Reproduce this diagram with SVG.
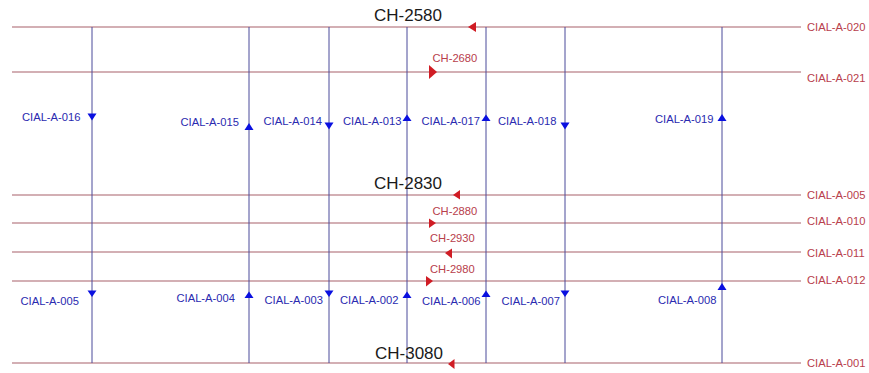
<svg xmlns="http://www.w3.org/2000/svg" width="869" height="373" viewBox="0 0 869 373">
<style>
.h{stroke:#a8606a;stroke-width:1.2;fill:none}
.v{stroke:#4a4a9a;stroke-width:1;fill:none}
.bl{font-family:"Liberation Sans",Arial,sans-serif;font-size:11.2px;fill:#2a2ab0}
.rl{font-family:"Liberation Sans",Arial,sans-serif;font-size:11.2px;fill:#b8404c}
.ch{font-family:"Liberation Sans",Arial,sans-serif;font-size:17px;fill:#1a1a1a}
.bt{fill:#0a10e0}
.rt{fill:#d01c24}
</style>
<rect width="869" height="373" fill="#ffffff"/>
<g id="connectors">
<line class="h" x1="12" y1="27" x2="801" y2="27"/>
<line class="h" x1="12" y1="72" x2="801" y2="72"/>
<line class="h" x1="12" y1="195" x2="801" y2="195"/>
<line class="h" x1="12" y1="223" x2="801" y2="223"/>
<line class="h" x1="12" y1="252" x2="801" y2="252"/>
<line class="h" x1="12" y1="281" x2="801" y2="281"/>
<line class="h" x1="12" y1="363" x2="801" y2="363"/>
<line class="v" x1="92" y1="27" x2="92" y2="363"/>
<line class="v" x1="249" y1="27" x2="249" y2="363"/>
<line class="v" x1="329" y1="27" x2="329" y2="363"/>
<line class="v" x1="407" y1="27" x2="407" y2="363"/>
<line class="v" x1="486" y1="27" x2="486" y2="363"/>
<line class="v" x1="565" y1="27" x2="565" y2="363"/>
<line class="v" x1="722" y1="27" x2="722" y2="363"/>
</g>
<g id="track-020"><text class="rl" x="807" y="31">CIAL-A-020</text><text class="ch" x="374" y="21">CH-2580</text><polygon class="rt" points="468,27 476,22 476,32"/></g>
<g id="track-021"><text class="rl" x="807" y="82">CIAL-A-021</text><text class="rl" x="432.5" y="62">CH-2680</text><polygon class="rt" points="437,72 429,65 429,79"/></g>
<g id="track-005"><text class="rl" x="807" y="199">CIAL-A-005</text><text class="ch" x="374" y="188.5">CH-2830</text><polygon class="rt" points="453,195 460,190 460,199.5"/></g>
<g id="track-010"><text class="rl" x="807" y="225">CIAL-A-010</text><text class="rl" x="432.5" y="215">CH-2880</text><polygon class="rt" points="436,223 429,218.5 429,228"/></g>
<g id="track-011"><text class="rl" x="807" y="257">CIAL-A-011</text><text class="rl" x="430" y="242">CH-2930</text><polygon class="rt" points="445,253 452,248.5 452,258.5"/></g>
<g id="track-012"><text class="rl" x="807" y="284">CIAL-A-012</text><text class="rl" x="430" y="273">CH-2980</text><polygon class="rt" points="433,281 426,276 426,286.5"/></g>
<g id="track-001"><text class="rl" x="807" y="367">CIAL-A-001</text><text class="ch" x="375" y="358.5">CH-3080</text><polygon class="rt" points="448,364 454.5,359 454.5,369"/></g>
<g id="sig-016"><text class="bl" x="22" y="121">CIAL-A-016</text><polygon class="bt" points="87.5,113.5 96.5,113.5 92,120.5"/></g>
<g id="sig-015"><text class="bl" x="180.5" y="125.5">CIAL-A-015</text><polygon class="bt" points="244.5,130 253.5,130 249,123"/></g>
<g id="sig-014"><text class="bl" x="263.5" y="124.5">CIAL-A-014</text><polygon class="bt" points="324.5,122.5 333.5,122.5 329,129.5"/></g>
<g id="sig-013"><text class="bl" x="343" y="124.5">CIAL-A-013</text><polygon class="bt" points="402.5,121 411.5,121 407,114.5"/></g>
<g id="sig-017"><text class="bl" x="421.5" y="124.5">CIAL-A-017</text><polygon class="bt" points="481.5,121 490.5,121 486,114.5"/></g>
<g id="sig-018"><text class="bl" x="498" y="124.5">CIAL-A-018</text><polygon class="bt" points="560.5,122.5 569.5,122.5 565,129.5"/></g>
<g id="sig-019"><text class="bl" x="655" y="123">CIAL-A-019</text><polygon class="bt" points="717.5,121 726.5,121 722,114"/></g>
<g id="sig-005"><text class="bl" x="20.5" y="305">CIAL-A-005</text><polygon class="bt" points="87.5,290.5 96.5,290.5 92,297"/></g>
<g id="sig-004"><text class="bl" x="176.5" y="301.5">CIAL-A-004</text><polygon class="bt" points="244.5,298 253.5,298 249,291.5"/></g>
<g id="sig-003"><text class="bl" x="264.5" y="303.5">CIAL-A-003</text><polygon class="bt" points="324.5,290.5 333.5,290.5 329,297"/></g>
<g id="sig-002"><text class="bl" x="340" y="303.5">CIAL-A-002</text><polygon class="bt" points="402.5,298 411.5,298 407,291.5"/></g>
<g id="sig-006"><text class="bl" x="422" y="305">CIAL-A-006</text><polygon class="bt" points="481.5,297 490.5,297 486,290.5"/></g>
<g id="sig-007"><text class="bl" x="501.5" y="305">CIAL-A-007</text><polygon class="bt" points="560.5,290.5 569.5,290.5 565,297"/></g>
<g id="sig-008"><text class="bl" x="658" y="303.5">CIAL-A-008</text><polygon class="bt" points="717.5,290 726.5,290 722,283"/></g>
</svg>
